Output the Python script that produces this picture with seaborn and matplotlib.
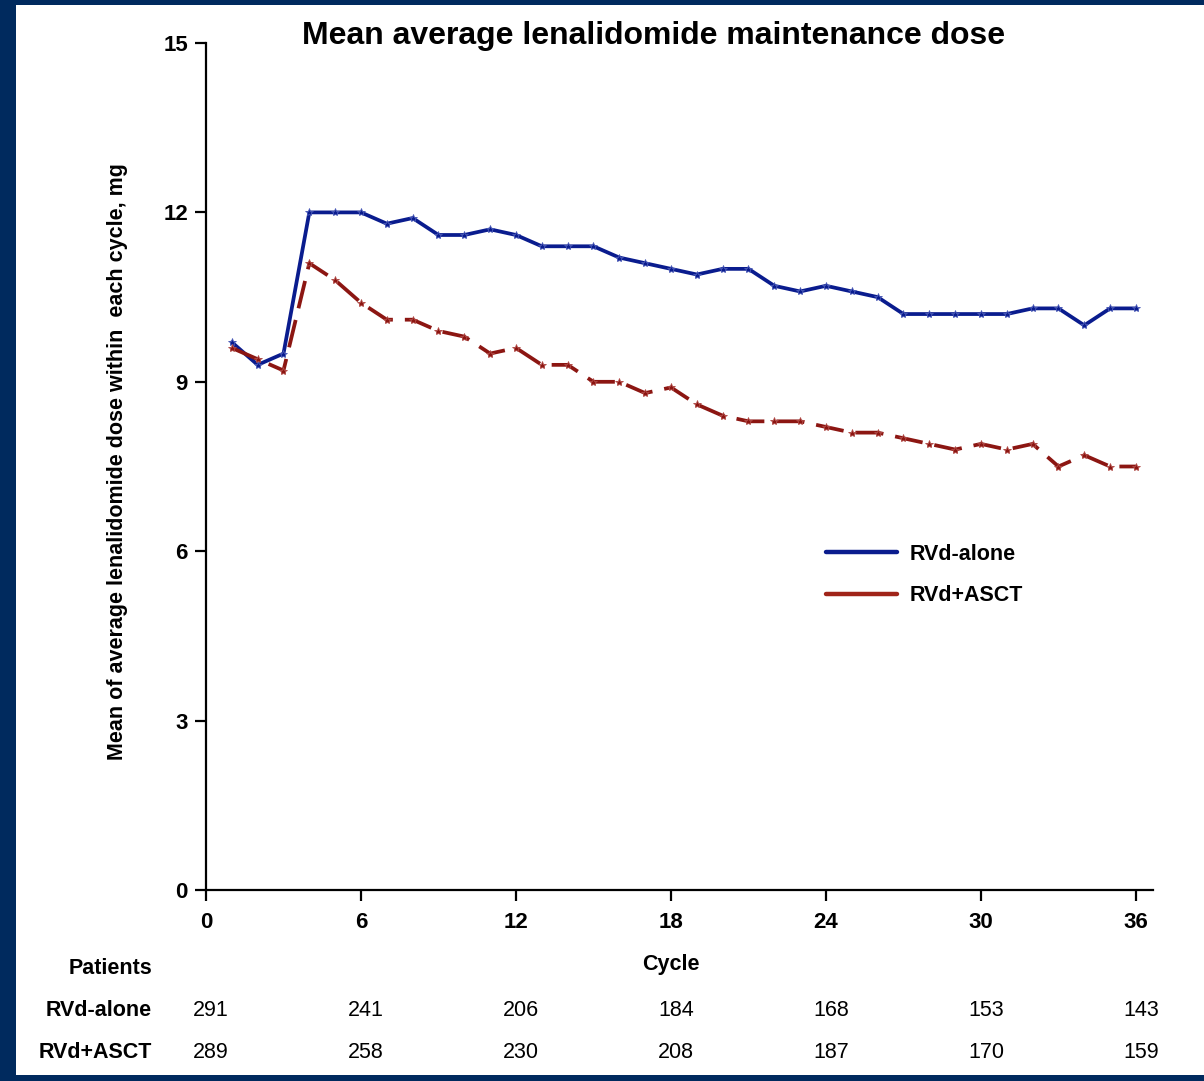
import numpy as np
import pandas as pd
import matplotlib
matplotlib.use("Agg")
import matplotlib.pyplot as plt
from matplotlib.lines import Line2D
from matplotlib.patches import Rectangle
from matplotlib.transforms import blended_transform_factory
import seaborn as sns

# Mean of average lenalidomide dose per maintenance cycle (mg)
cycles = list(range(1, 37))
rvd_alone = [9.7, 9.3, 9.5, 12.0, 12.0, 12.0, 11.8, 11.9, 11.6, 11.6, 11.7, 11.6,
             11.4, 11.4, 11.4, 11.2, 11.1, 11.0, 10.9, 11.0, 11.0, 10.7, 10.6, 10.7,
             10.6, 10.5, 10.2, 10.2, 10.2, 10.2, 10.2, 10.3, 10.3, 10.0, 10.3, 10.3]
rvd_asct = [9.6, 9.4, 9.2, 11.1, 10.8, 10.4, 10.1, 10.1, 9.9, 9.8, 9.5, 9.6,
            9.3, 9.3, 9.0, 9.0, 8.8, 8.9, 8.6, 8.4, 8.3, 8.3, 8.3, 8.2,
            8.1, 8.1, 8.0, 7.9, 7.8, 7.9, 7.8, 7.9, 7.5, 7.7, 7.5, 7.5]

# Patients at risk
risk_cycles = [0, 6, 12, 18, 24, 30, 36]
risk_alone = [291, 241, 206, 184, 168, 153, 143]
risk_asct = [289, 258, 230, 208, 187, 170, 159]

x_ticks = [0, 6, 12, 18, 24, 30, 36]
y_ticks = [0, 3, 6, 9, 12, 15]

NAVY = "#002a5e"
BLUE = "#0a1c8e"
RED = "#8c1612"

sns.set_style("ticks")
plt.rcParams["font.family"] = ["Liberation Sans", "DejaVu Sans"]
plt.rcParams["font.weight"] = "bold"
plt.rcParams["text.color"] = "black"
plt.rcParams["axes.labelcolor"] = "black"
plt.rcParams["xtick.color"] = "black"
plt.rcParams["ytick.color"] = "black"

fig = plt.figure(figsize=(12.04, 10.81), dpi=100)
fig.patch.set_facecolor("white")
ax = fig.add_axes([206 / 1204, 1 - 890 / 1081, (1153 - 206) / 1204, (890 - 43) / 1081])

df = pd.DataFrame({
    "Cycle": cycles * 2,
    "Dose": rvd_alone + rvd_asct,
    "Arm": ["RVd-alone"] * len(cycles) + ["RVd+ASCT"] * len(cycles),
})

sns.lineplot(data=df[df["Arm"] == "RVd-alone"], x="Cycle", y="Dose", ax=ax,
             color=BLUE, lw=2.7, marker="*", markersize=6, markeredgewidth=0.6,
             markeredgecolor="#4a5ab8", legend=False)
sns.lineplot(data=df[df["Arm"] == "RVd+ASCT"], x="Cycle", y="Dose", ax=ax,
             color=RED, lw=2.7, marker="*", markersize=6, markeredgewidth=0.6,
             markeredgecolor="#b04a46", dashes=False, legend=False)
ax.lines[-1].set_dashes([7.5, 3.2])

ax.set_xlim(0, 36.66)
ax.set_ylim(0, 15)
ax.set_xticks(x_ticks)
ax.set_yticks(y_ticks)
ax.tick_params(axis="both", which="major", length=8, width=1.6, labelsize=16,
               color="black", labelcolor="black")
ax.tick_params(axis="x", pad=8)
ax.tick_params(axis="y", pad=5)
for lab in ax.get_xticklabels() + ax.get_yticklabels():
    lab.set_fontweight("bold")
for side in ("top", "right"):
    ax.spines[side].set_visible(False)
for side in ("left", "bottom"):
    ax.spines[side].set_linewidth(1.6)
    ax.spines[side].set_color("black")

ax.set_xlabel("Cycle", fontsize=15.5, fontweight="bold")
ax.set_ylabel("Mean of average lenalidomide dose within  each cycle, mg",
              fontsize=15.5, fontweight="bold")
ax.xaxis.set_label_coords((671 - 206) / (1153 - 206), -(954 - 890) / 847)
ax.yaxis.set_label_coords(-(206 - 128) / (1153 - 206), (890 - 462) / 847)

handles = [Line2D([0], [0], color=BLUE, lw=3.2),
           Line2D([0], [0], color="#a02419", lw=3.2)]
ax.legend(handles, ["RVd-alone", "RVd+ASCT"], loc="center left",
          bbox_to_anchor=(0.655, 0.372), frameon=False, borderpad=0,
          borderaxespad=0, handlelength=3.3, handletextpad=0.55,
          labelspacing=0.95, prop={"size": 15.5, "weight": "bold"})

fig.text(654 / 1204, 1 - 36 / 1081, "Mean average lenalidomide maintenance dose",
         ha="center", va="center", fontsize=23, fontweight="bold")

# Patients-at-risk table
trans = blended_transform_factory(ax.transData, fig.transFigure)
fig.text(152 / 1204, 1 - 968 / 1081, "Patients", ha="right", va="center",
         fontsize=15.5, fontweight="bold")
for label, counts, ypx in (("RVd-alone", risk_alone, 1010),
                           ("RVd+ASCT", risk_asct, 1052)):
    yf = 1 - ypx / 1081
    fig.text(152 / 1204, yf, label, ha="right", va="center",
             fontsize=15.5, fontweight="bold")
    for c, n in zip(risk_cycles, counts):
        ax.text(c + 0.2, yf, str(n), transform=trans, ha="center", va="center",
                fontsize=15.5, fontweight="normal", clip_on=False)

# Slide frame
for (x0, y0, w, h) in ((0, 0, 16 / 1204, 1), (0, 1 - 5 / 1081, 1, 5 / 1081),
                       (0, 0, 1, 6 / 1081)):
    fig.add_artist(Rectangle((x0, y0), w, h, transform=fig.transFigure,
                             facecolor=NAVY, edgecolor="none", zorder=10))

fig.savefig("out.png", dpi=100)
